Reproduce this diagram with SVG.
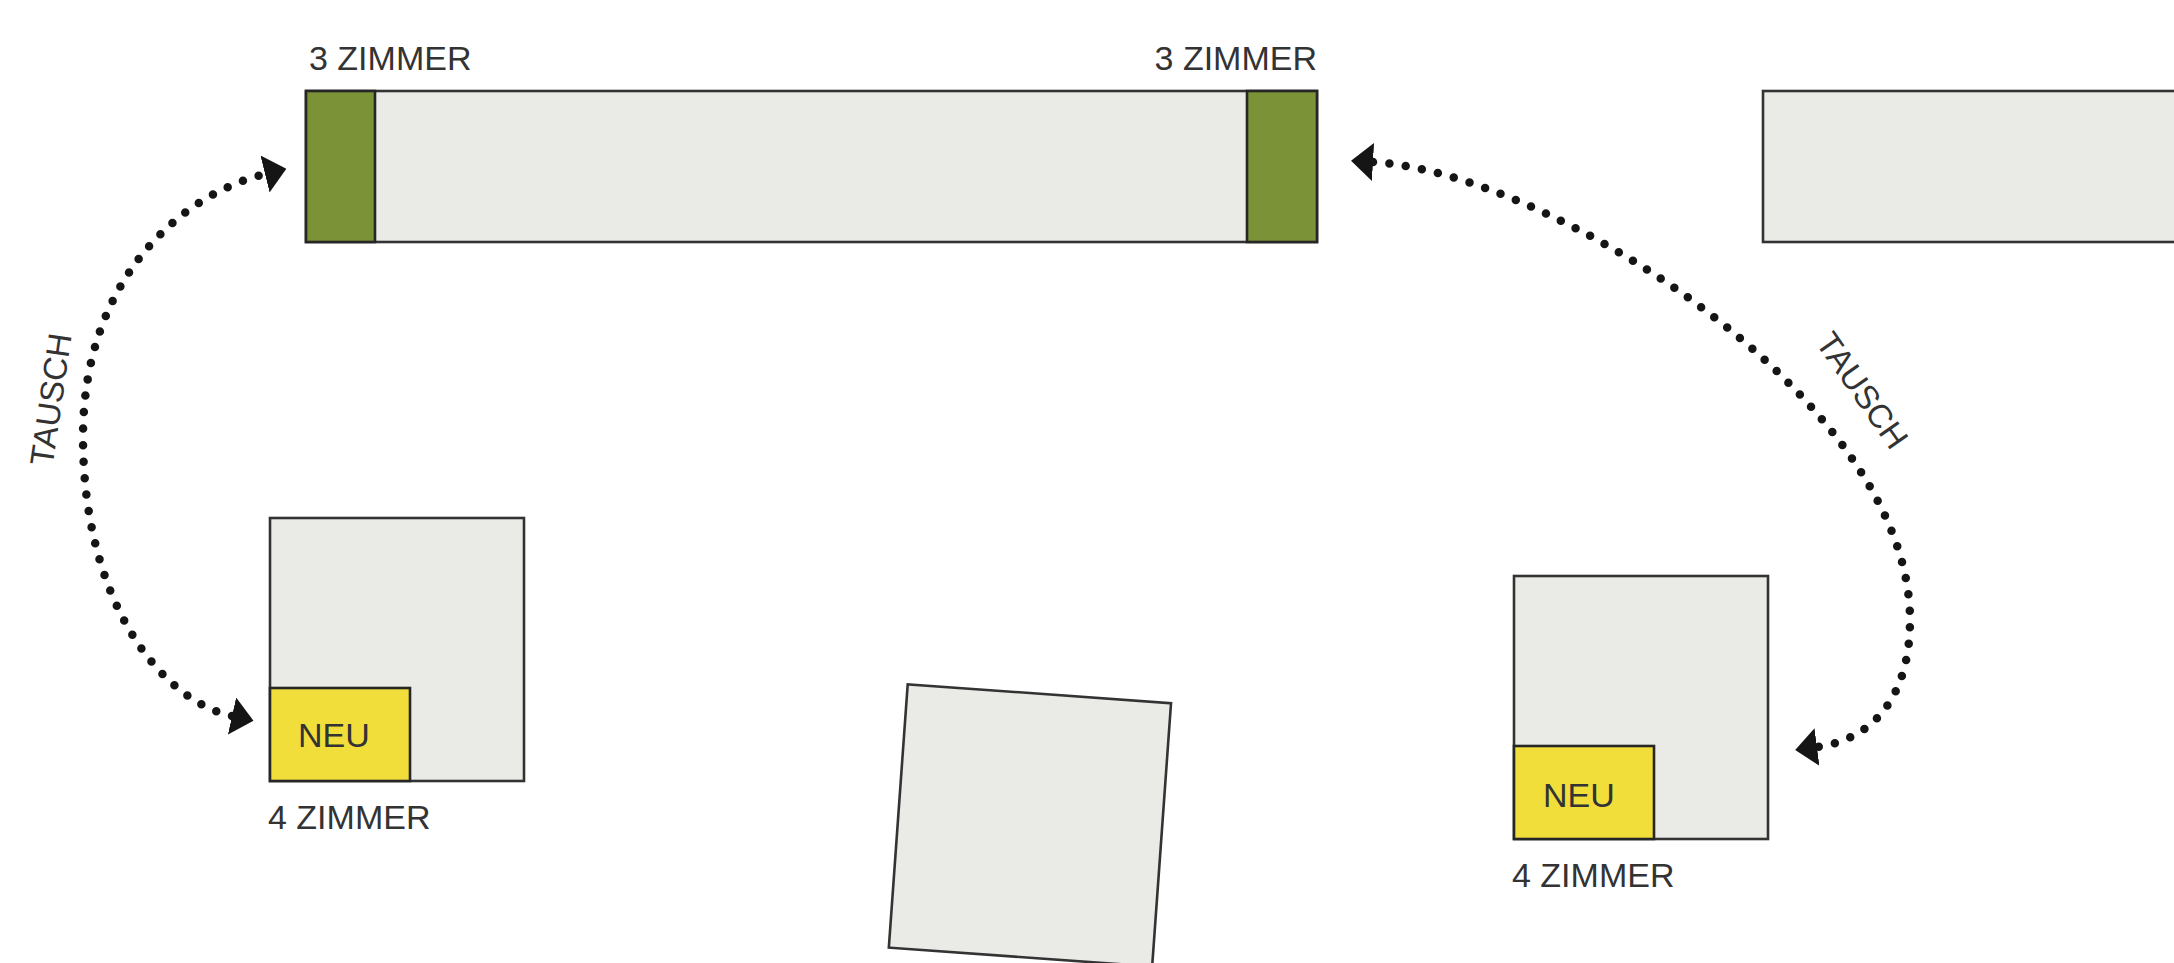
<svg xmlns="http://www.w3.org/2000/svg" width="2174" height="963" viewBox="0 0 2174 963">
  <style>
    .room { fill: #EAEAE6; stroke: #333333; stroke-width: 2.6; }
    .green { fill: #7B9237; stroke: #262626; stroke-width: 2.6; }
    .new { fill: #F2DE3B; stroke: #262626; stroke-width: 2.6; }
    .label { font-family: "Liberation Sans", Arial, sans-serif; font-size: 34px; fill: #333333; }
    .swap { font-family: "Liberation Sans", Arial, sans-serif; font-size: 33px; fill: #333333; }
    .dots { fill: none; stroke: #151515; stroke-width: 8.5; stroke-linecap: round; stroke-dasharray: 0 16.5; }
  </style>
  <defs>
    <marker id="head" markerUnits="userSpaceOnUse" viewBox="0 0 22 38" markerWidth="22" markerHeight="38" refX="0" refY="19" orient="auto-start-reverse">
      <path d="M0,0 L22,19 L0,38 Z" fill="#151515"/>
    </marker>
  </defs>

  <rect width="2174" height="963" fill="#FFFFFF"/>

  <!-- long block with a 3-room unit at each end -->
  <g id="block-long">
    <rect class="room" x="306" y="91" width="1011" height="151"/>
    <rect class="green" x="306" y="91" width="69" height="151"/>
    <rect class="green" x="1247" y="91" width="70" height="151"/>
    <text class="label" x="309" y="70">3 ZIMMER</text>
    <text class="label" x="1317" y="70" text-anchor="end">3 ZIMMER</text>
  </g>

  <!-- block cut off at the right edge -->
  <g id="block-right">
    <rect class="room" x="1763" y="91" width="440" height="151"/>
  </g>

  <!-- left house with new 4-room unit -->
  <g id="house-left">
    <rect class="room" x="270" y="518" width="254" height="263"/>
    <rect class="new" x="270" y="688" width="140" height="93"/>
    <text class="label" x="298" y="747">NEU</text>
    <text class="label" x="268" y="829">4 ZIMMER</text>
  </g>

  <!-- tilted house -->
  <g id="house-tilted">
    <rect class="room" x="0" y="0" width="264" height="264" transform="translate(907.7,684.3) rotate(4.1)"/>
  </g>

  <!-- right house with new 4-room unit -->
  <g id="house-right">
    <rect class="room" x="1514" y="576" width="254" height="263"/>
    <rect class="new" x="1514" y="746" width="140" height="93"/>
    <text class="label" x="1543" y="807">NEU</text>
    <text class="label" x="1512" y="887">4 ZIMMER</text>
  </g>

  <!-- swap arrows -->
  <g id="connectors">
    <path class="dots" marker-start="url(#head)" marker-end="url(#head)" d="M232,716 C160,700 83,600 83,437 C83,280 180,195 265,174"/>
    <path class="dots" marker-start="url(#head)" marker-end="url(#head)" d="M1373,162 C1550,172 1910,400 1910,620 C1910,700 1870,740 1817,747"/>
    <text class="swap" transform="translate(52.5,467) rotate(-81.7)">TAUSCH</text>
    <text class="swap" text-anchor="middle" transform="translate(1853,397) rotate(55)">TAUSCH</text>
  </g>
</svg>
